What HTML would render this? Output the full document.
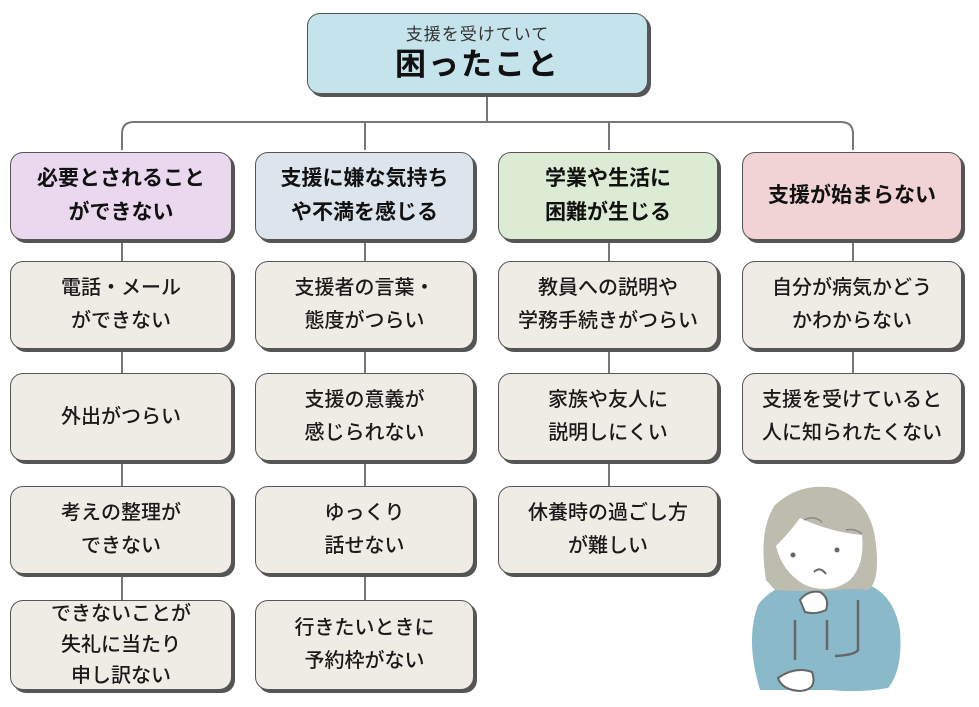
<!DOCTYPE html>
<html><head><meta charset="utf-8"><style>
body{margin:0;width:979px;height:707px;background:#fff;position:relative;overflow:hidden;font-family:"Liberation Sans","Noto Sans CJK JP",sans-serif;}
.b{position:absolute;box-sizing:border-box;border:1.5px solid #555;border-radius:13px;box-shadow:3px 3px 0 #555;display:flex;align-items:center;justify-content:center;text-align:center;color:#1a1a1a;font-size:20px;line-height:33px;font-weight:500;}
.h{font-weight:bold;font-size:21px;line-height:34px;color:#111}
.i{background:#efece6}
</style></head><body>
<svg style="position:absolute;left:0;top:0" width="979" height="707">
<path d="M487 94 V122 M122 150 V134 Q122 122 134 122 H841 Q853 122 853 134 V150 M365 122V150 M609 122V150" fill="none" stroke="#777" stroke-width="2"/>
<path d="M122 240V600 M365 240V600 M609 240V486 M853 240V373" stroke="#777" stroke-width="2"/>
<g>
<path d="M760 690 Q745 640 758 605 Q775 582 805 584 L860 582 Q893 590 900 630 Q903 670 888 688 Q860 693 830 690 Z" fill="#8ab9c9"/>
<path d="M766 580 Q758 530 775 505 Q800 482 835 488 Q872 500 876 545 Q880 582 868 590 Q850 588 835 590 Q800 592 775 590 Z" fill="#bdbcae"/>
<path d="M776 546 Q790 532 800 518 Q830 532 862 535 Q865 565 850 580 Q830 595 805 585 Q782 572 776 546 Z" fill="#fff"/>
<path d="M804 520 Q814 515 822 522 M846 530 Q855 528 862 534" stroke="#888" stroke-width="1.5" fill="none"/>
<circle cx="793" cy="555" r="2.5" fill="#666"/><circle cx="837" cy="550" r="2.5" fill="#666"/>
<path d="M814 572 Q820 566 826 574" stroke="#666" stroke-width="2" fill="none"/>
<path d="M800 600 Q808 590 820 592 Q830 598 826 610 Q815 615 805 612 Z" fill="#fff" stroke="#666" stroke-width="2"/>
<path d="M778 678 Q795 666 812 672 Q818 690 800 691 Q782 690 778 678Z" fill="#fff" stroke="#666" stroke-width="2"/>
<path d="M795 620 V660 M827 620 V650 M858 600 V650 Q855 655 835 656" stroke="#666" stroke-width="2.5" fill="none"/>
</g>
</svg>
<div class="b" style="left:307px;top:13px;width:341px;height:81px;background:#c5e3ea;flex-direction:column;"><div style="font-size:17px;line-height:22px;letter-spacing:1px;color:#333;font-weight:normal">支援を受けていて</div><div style="font-size:31px;font-weight:bold;line-height:38px;color:#111;letter-spacing:2px">困ったこと</div></div>

<div class="b h" style="left:10px;top:152px;width:222px;height:88px;background:#ead9ee">必要とされること<br>ができない</div>
<div class="b h" style="left:255px;top:152px;width:219px;height:88px;background:#dde5ec">支援に嫌な気持ち<br>や不満を感じる</div>
<div class="b h" style="left:498px;top:152px;width:220px;height:88px;background:#dcebd3">学業や生活に<br>困難が生じる</div>
<div class="b h" style="left:742px;top:152px;width:220px;height:88px;background:#f1d3d5">支援が始まらない</div>

<div class="b i" style="left:10px;top:261px;width:222px;height:88px">電話・メール<br>ができない</div>
<div class="b i" style="left:10px;top:373px;width:222px;height:88px">外出がつらい</div>
<div class="b i" style="left:10px;top:486px;width:222px;height:88px">考えの整理が<br>できない</div>
<div class="b i" style="left:10px;top:600px;width:222px;height:90px;line-height:31px">できないことが<br>失礼に当たり<br>申し訳ない</div>

<div class="b i" style="left:255px;top:261px;width:219px;height:88px">支援者の言葉・<br>態度がつらい</div>
<div class="b i" style="left:255px;top:373px;width:219px;height:88px">支援の意義が<br>感じられない</div>
<div class="b i" style="left:255px;top:486px;width:219px;height:88px">ゆっくり<br>話せない</div>
<div class="b i" style="left:255px;top:600px;width:219px;height:90px">行きたいときに<br>予約枠がない</div>

<div class="b i" style="left:498px;top:261px;width:220px;height:88px">教員への説明や<br>学務手続きがつらい</div>
<div class="b i" style="left:498px;top:373px;width:220px;height:88px">家族や友人に<br>説明しにくい</div>
<div class="b i" style="left:498px;top:486px;width:220px;height:88px">休養時の過ごし方<br>が難しい</div>

<div class="b i" style="left:742px;top:261px;width:220px;height:88px">自分が病気かどう<br>かわからない</div>
<div class="b i" style="left:742px;top:373px;width:220px;height:88px">支援を受けていると<br>人に知られたくない</div>
</body></html>
